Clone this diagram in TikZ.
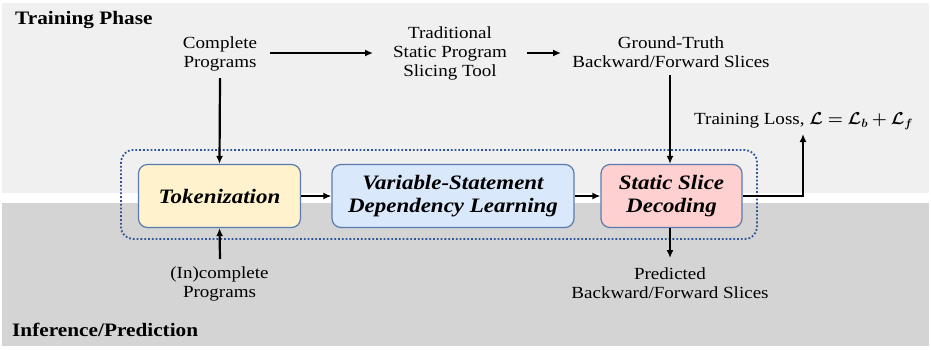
\documentclass[tikz,border=0pt]{standalone}
\usepackage{fontspec}
\setmainfont{Liberation Serif}[FakeStretch=1.12]
\usepackage{amsmath,bm}
\usetikzlibrary{arrows.meta}
\definecolor{topbg}{HTML}{F0F0F0}
\definecolor{botbg}{HTML}{D4D4D4}
\definecolor{tokfill}{HTML}{FFF2CC}
\definecolor{varfill}{HTML}{DAE8FC}
\definecolor{decfill}{HTML}{FFD0D0}
\definecolor{boxline}{HTML}{5B7BAE}
\definecolor{dotline}{HTML}{2F5597}
\tikzset{
  proc/.style={draw=boxline, line width=1.2pt, rounded corners=9pt, minimum height=63pt, align=center, font=\fontsize{20.5}{23}\selectfont\bfseries\itshape, inner sep=0pt},
  lbl/.style={align=center, font=\fontsize{17}{19}\selectfont, inner sep=0pt},
  arr/.style={-{Latex[length=8pt,width=7pt]}, line width=2.2pt},
  phase/.style={font=\fontsize{19}{22}\selectfont\bfseries, anchor=west, inner sep=0pt}
}
\begin{document}
\begin{tikzpicture}[x=1pt,y=-1pt]
\useasboundingbox (0,0) rectangle (931,349);
\fill[white] (0,0) rectangle (931,349);
\fill[topbg] (2,3) rectangle (929,193);
\fill[botbg] (2,203) rectangle (929,346);
\node[phase] (tp) at (15,20) {Training Phase};
\node[phase] (ip) at (12,330) {Inference/Prediction};
\draw[dotline, line width=1.8pt, dotted, rounded corners=12pt] (121,150) rectangle (757,239);
\node[proc, fill=tokfill, minimum width=162pt] (tok) at (219.5,196) {Tokenization};
\node[proc, fill=varfill, minimum width=242pt] (var) at (453,196) {Variable-Statement\\Dependency Learning};
\node[proc, fill=decfill, minimum width=141pt] (dec) at (671.5,196) {Static Slice\\Decoding};
\node[lbl] (cp) at (220,54) {Complete\\Programs};
\node[lbl] (ts) at (450,53) {Traditional\\Static Program\\Slicing Tool};
\node[lbl] (gt) at (671,52) {Ground-Truth\\Backward/Forward Slices};
\node[lbl] (ip2) at (219.5,284) {(In)complete\\Programs};
\node[lbl] (pr) at (670,283) {Predicted\\Backward/Forward Slices};
\node[lbl, anchor=west] (loss) at (694,121) {Training Loss, $\bm{\mathcal{L}=\mathcal{L}_b+\mathcal{L}_f}$};
\coordinate (lossend) at (803,134);
\draw[arr] (270,53) coordinate (a1s) -- (373,53) coordinate (a1e);
\draw[arr] (527,53) coordinate (a2s) -- (561,53) coordinate (a2e);
\draw[arr] (220,78) coordinate (a3s) -- (tok.north);
\draw[arr] (670,75) coordinate (a4s) -- (dec.north -| a4s);
\draw[arr] (220,259) coordinate (a5s) -- (tok.south);
\draw[arr] (dec.south -| 670,0) -- (670,258) coordinate (a6e);
\draw[arr] (tok.east) -- (var.west);
\draw[arr] (var.east) -- (dec.west);
\draw[arr] (dec.east) -| (lossend);
\end{tikzpicture}
\end{document}
